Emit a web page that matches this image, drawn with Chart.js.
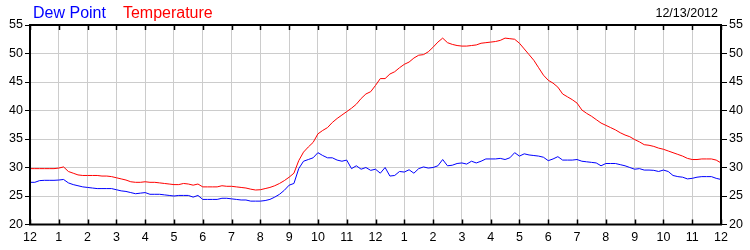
<!DOCTYPE html>
<html>
<head>
<meta charset="utf-8">
<script src="https://cdn.jsdelivr.net/npm/chart.js@4"></script>
<style>
  html, body { margin: 0; padding: 0; background: #fff; }
  #wrap { width: 750px; height: 250px; }
</style>
</head>
<body>
<div id="wrap"><canvas id="grafico" width="750" height="250"></canvas></div>
<script>
// hour labels, midnight to midnight
const hourLabels = ['12','1','2','3','4','5','6','7','8','9','10','11','12','1','2','3','4','5','6','7','8','9','10','11','12'];
const chartDate = '12/13/2012';

// readings every 10 minutes, 00:00 .. 24:00
const temperature = [
  29.8, 29.8, 29.8, 29.8, 29.8, 29.8,
  29.9, 30.1, 29.3, 29.0, 28.7, 28.6,
  28.6, 28.6, 28.6, 28.5, 28.5, 28.4,
  28.2, 28.0, 27.8, 27.5, 27.4, 27.4,
  27.5, 27.4, 27.4, 27.3, 27.2, 27.1,
  27.0, 27.0, 27.2, 27.1, 26.9, 27.1,
  26.6, 26.6, 26.6, 26.6, 26.8, 26.7,
  26.7, 26.6, 26.5, 26.4, 26.2, 26.05,
  26.1, 26.3, 26.5, 26.8, 27.2, 27.7,
  28.3, 29.0, 31.2, 32.7, 33.6, 34.4,
  35.9, 36.5, 37.0, 37.9, 38.6, 39.2,
  39.8, 40.4, 41.1, 42.1, 42.9, 43.3,
  44.4, 45.6, 45.6, 46.4, 46.8, 47.5,
  48.1, 48.5, 49.2, 49.7, 49.8, 50.3,
  51.1, 52.0, 52.7, 51.9, 51.6, 51.4,
  51.3, 51.3, 51.4, 51.5, 51.8, 51.9,
  52.0, 52.1, 52.3, 52.7, 52.6, 52.5,
  51.8, 50.8, 49.8, 48.8, 47.5, 46.2,
  45.3, 44.8, 44.1, 42.9, 42.4, 41.9,
  41.3, 40.1, 39.5, 39.0, 38.4, 37.8,
  37.4, 37.0, 36.6, 36.1, 35.7, 35.4,
  34.9, 34.5, 34.0, 33.9, 33.7, 33.4,
  33.2, 32.9, 32.6, 32.3, 32.0, 31.6,
  31.4, 31.4, 31.5, 31.5, 31.5, 31.3,
  30.8
];

const dewPoint = [
  27.4, 27.4, 27.7, 27.75, 27.75, 27.75,
  27.8, 27.9, 27.3, 27.0, 26.8, 26.6,
  26.5, 26.4, 26.3, 26.3, 26.3, 26.3,
  26.1, 25.9, 25.8, 25.6, 25.4, 25.5,
  25.6, 25.3, 25.3, 25.3, 25.2, 25.1,
  25.0, 25.1, 25.1, 25.1, 24.8, 25.1,
  24.4, 24.4, 24.4, 24.4, 24.6, 24.6,
  24.5, 24.4, 24.3, 24.3, 24.1, 24.1,
  24.1, 24.2, 24.4, 24.8, 25.3, 26.0,
  26.9, 27.2, 29.8, 31.1, 31.4, 31.7,
  32.6, 32.1, 31.7, 31.7, 31.3, 31.1,
  31.3, 29.8, 30.3, 29.7, 30.0, 29.5,
  29.7, 29.0, 30.0, 28.5, 28.6, 29.3,
  29.2, 29.6, 29.0, 29.8, 30.1, 29.9,
  30.0, 30.3, 31.4, 30.3, 30.4, 30.7,
  30.8, 30.6, 31.1, 30.8, 31.1, 31.5,
  31.5, 31.5, 31.6, 31.4, 31.7, 32.6,
  32.0, 32.4, 32.2, 32.1, 32.0, 31.8,
  31.2, 31.5, 31.9, 31.3, 31.3, 31.3,
  31.4, 31.1, 31.0, 30.9, 30.8, 30.3,
  30.7, 30.7, 30.7, 30.5, 30.3, 30.0,
  29.7, 29.8, 29.55, 29.55, 29.5, 29.3,
  29.55, 29.3, 28.6, 28.4, 28.3, 28.0,
  28.1, 28.3, 28.4, 28.4, 28.4, 28.1,
  27.9
];

// sample times in hours
const hours = temperature.map((_, i) => i / 6);

const FONT = "'Liberation Sans', Arial, sans-serif";

// frame, inward hour ticks, legend text and date
const decorPlugin = {
    id: 'decor',
    afterDraw(chart) {
        const ctx = chart.ctx;
        const area = chart.chartArea;
        const xs = chart.scales.x;
        ctx.save();
        ctx.strokeStyle = '#000';
        ctx.lineWidth = 1.5;
        for (let h = 0; h <= 24; h++) {
            const px = Math.round(xs.getPixelForValue(h)) + 0.5;
            ctx.beginPath();
            ctx.moveTo(px, area.top);
            ctx.lineTo(px, area.top + 5);
            ctx.moveTo(px, area.bottom);
            ctx.lineTo(px, area.bottom - 5);
            ctx.stroke();
        }
        ctx.lineWidth = 2;
        ctx.strokeRect(area.left, area.top, area.right - area.left, area.bottom - area.top);

        ctx.textBaseline = 'alphabetic';
        ctx.font = '16px ' + FONT;
        let lx = 33;
        chart.data.datasets.forEach(ds => {
            ctx.fillStyle = ds.borderColor;
            ctx.textAlign = 'left';
            ctx.fillText(ds.label, lx, 17.5);
            lx += ctx.measureText(ds.label).width + 17;
        });
        ctx.font = '12.5px ' + FONT;
        ctx.fillStyle = '#000';
        ctx.textAlign = 'right';
        ctx.fillText(chartDate, 718, 17);
        ctx.restore();
    }
};

const ctxGrafico = document.getElementById('grafico').getContext('2d');
new Chart(ctxGrafico, {
    type: 'line',
    data: {
        datasets: [{
            label: 'Dew Point',
            data: hours.map((h, i) => ({ x: h, y: dewPoint[i] })),
            borderColor: '#0000ff',
            borderWidth: 1,
            pointRadius: 0,
            tension: 0
        }, {
            label: 'Temperature',
            data: hours.map((h, i) => ({ x: h, y: temperature[i] })),
            borderColor: '#ff0000',
            borderWidth: 1,
            pointRadius: 0,
            tension: 0
        }]
    },
    options: {
        responsive: false,
        animation: false,
        layout: { padding: { top: 25, left: 0, right: 0, bottom: 0 } },
        plugins: {
            legend: { display: false },
            tooltip: { enabled: false }
        },
        scales: {
            x: {
                type: 'linear',
                min: 0,
                max: 24,
                border: { display: false },
                grid: { color: '#cccccc', lineWidth: 1, drawTicks: false },
                ticks: {
                    stepSize: 1,
                    autoSkip: false,
                    maxRotation: 0,
                    padding: 6,
                    color: '#000',
                    font: { family: FONT, size: 12.5 },
                    callback: v => hourLabels[v]
                },
                afterFit: s => { s.height = 25.5; }
            },
            y: {
                position: 'left',
                min: 20,
                max: 55,
                border: { display: false },
                grid: { color: '#cccccc', lineWidth: 1, tickColor: '#000', tickLength: 5 },
                ticks: {
                    stepSize: 5,
                    padding: 2,
                    color: '#000',
                    font: { family: FONT, size: 12.5 }
                },
                afterFit: s => { s.width = 30; }
            },
            y2: {
                position: 'right',
                min: 20,
                max: 55,
                border: { display: false },
                grid: { drawOnChartArea: false, tickColor: '#000', tickLength: 6 },
                ticks: {
                    stepSize: 5,
                    padding: 2,
                    color: '#000',
                    font: { family: FONT, size: 12.5 }
                },
                afterFit: s => { s.width = 29; }
            }
        }
    },
    plugins: [decorPlugin]
});
</script>
</body>
</html>
